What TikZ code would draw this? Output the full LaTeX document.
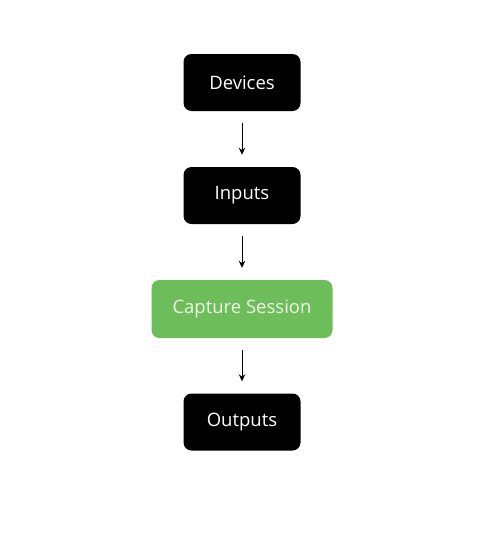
\documentclass[tikz,border=0pt]{standalone}
\usepackage{fontspec}
\setmainfont{Open Sans}
\definecolor{capgreen}{HTML}{6DBE5B}
\definecolor{captext}{HTML}{EEF8E8}
\usetikzlibrary{arrows.meta,positioning}

\begin{document}
\begin{tikzpicture}[x=1pt,y=-1pt,
  stage/.style={fill=black,text=white,rounded corners=8pt,align=center,
    font=\fontsize{18.5}{22}\selectfont,minimum height=57pt,minimum width=117pt},
  core/.style={fill=capgreen,text=captext,rounded corners=8pt,align=center,
    font=\fontsize{18.5}{22}\selectfont,minimum height=58pt,minimum width=181pt},
  flow/.style={-{Stealth[length=7pt,width=6.5pt]},line width=1pt,black,
    shorten <=12pt,shorten >=12pt}]
  \useasboundingbox (0,0) rectangle (489,541);
  \node[stage] (dev) at (242,82.5)  {Devices};
  \node[stage] (inp) at (242,195.5) {Inputs};
  \node[core]  (cap) at (242,309)   {Capture Session};
  \node[stage] (out) at (242,422)   {Outputs};
  \draw[flow] (dev) -- (inp);
  \draw[flow] (inp) -- (cap);
  \draw[flow] (cap) -- (out);
\end{tikzpicture}
\end{document}
